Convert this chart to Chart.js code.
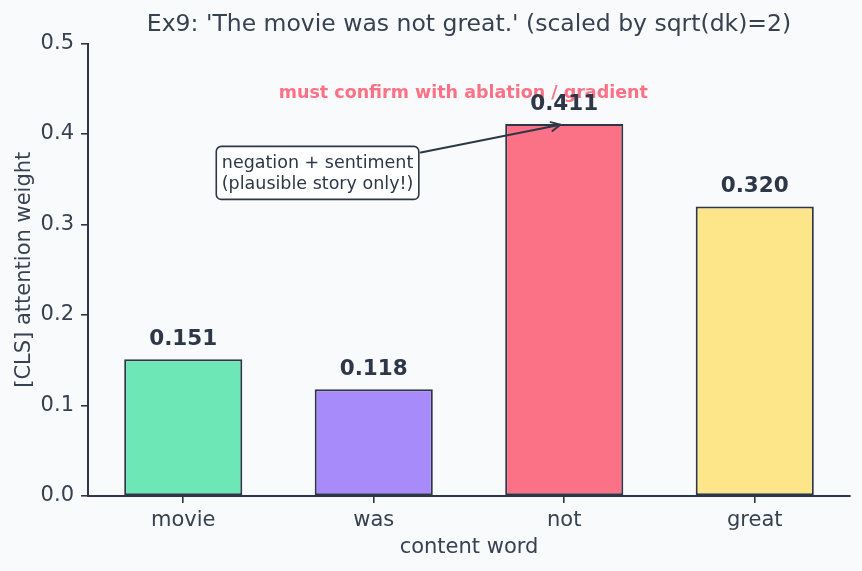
<!DOCTYPE html>
<html><head><meta charset="utf-8">
<script src="https://cdn.jsdelivr.net/npm/chart.js@4.4.1/dist/chart.umd.min.js"></script>
<style>html,body{margin:0;padding:0;background:#f8fafc;overflow:hidden}#wrap{width:862px;height:571px}</style>
</head><body><div id="wrap"><canvas id="c" width="862" height="571"></canvas></div>
<script>
const categories = ['movie', 'was', 'not', 'great'];
const weights = [0.151, 0.118, 0.411, 0.320];
const barColors = ['#6ee7b7', '#a78bfa', '#fb7185', '#fde68a'];
const yTicks = [0.0, 0.1, 0.2, 0.3, 0.4, 0.5];
const titleText = "Ex9: 'The movie was not great.' (scaled by sqrt(dk)=2)";
const xLabel = 'content word';
const yLabel = '[CLS] attention weight';
const noteLines = ['negation + sentiment', '(plausible story only!)'];
const noteAt = [0.705, 0.357];
const noteTarget = [2, 0.411];
const warnText = 'must confirm with ablation / gradient';
const warnAt = [1.47, 0.445];

const FONT = "'DejaVu Sans', sans-serif";
const INK = '#2d3748';
const TXT = '#374151';

const overlay = {
  id: 'overlay',
  afterDatasetsDraw(chart) {
    const ctx = chart.ctx, xs = chart.scales.x, ys = chart.scales.y;
    ctx.save();
    ctx.font = "bold 17.5px " + FONT;
    ctx.fillStyle = '#fb7185';
    ctx.textAlign = 'center';
    ctx.textBaseline = 'middle';
    ctx.fillText(warnText, xs.getPixelForValue(warnAt[0]), ys.getPixelForValue(warnAt[1]));
    ctx.font = "bold 21.5px " + FONT;
    ctx.fillStyle = INK;
    ctx.textBaseline = 'alphabetic';
    weights.forEach((v, i) => {
      ctx.fillText(v.toFixed(3), xs.getPixelForValue(i), ys.getPixelForValue(v) - 14);
    });
    ctx.font = "17.5px " + FONT;
    const lineH = 21;
    const pad = 5.5;
    const tw = Math.max(...noteLines.map(t => ctx.measureText(t).width));
    const bw = tw + 2 * pad, bh = lineH * noteLines.length + 2 * pad;
    const cx = xs.getPixelForValue(noteAt[0]), cy = ys.getPixelForValue(noteAt[1]);
    const tx = xs.getPixelForValue(noteTarget[0]), ty = ys.getPixelForValue(noteTarget[1]);
    let dx = tx - cx, dy = ty - cy;
    const len = Math.hypot(dx, dy); const ux = dx / len, uy = dy / len;
    const t = Math.min((bw / 2) / Math.abs(dx), (bh / 2) / Math.abs(dy));
    const sx = cx + dx * t + ux * 2, sy = cy + dy * t + uy * 2;
    const ex = tx - ux * 4, ey = ty - uy * 4;
    ctx.strokeStyle = INK; ctx.lineWidth = 2; ctx.lineCap = 'round'; ctx.lineJoin = 'round';
    ctx.beginPath(); ctx.moveTo(sx, sy); ctx.lineTo(ex, ey); ctx.stroke();
    const hl = 9, hw = 4.5;
    const bx = ex - ux * hl, by = ey - uy * hl;
    ctx.beginPath();
    ctx.moveTo(bx - uy * hw, by + ux * hw); ctx.lineTo(ex, ey); ctx.lineTo(bx + uy * hw, by - ux * hw);
    ctx.stroke();
    ctx.beginPath();
    ctx.roundRect(cx - bw / 2, cy - bh / 2, bw, bh, 5);
    ctx.fillStyle = '#ffffff'; ctx.fill();
    ctx.lineWidth = 1.6; ctx.strokeStyle = INK; ctx.stroke();
    ctx.fillStyle = '#2d3748'; ctx.textAlign = 'center'; ctx.textBaseline = 'middle';
    noteLines.forEach((l, i) => {
      ctx.fillText(l, cx, cy - bh / 2 + pad + lineH * (i + 0.5) + 1);
    });
    ctx.restore();
  }
};

const bgPlugin = {
  id: 'bg',
  beforeDraw(chart) {
    const ctx = chart.ctx; ctx.save(); ctx.fillStyle = '#f8fafc';
    ctx.fillRect(0, 0, chart.width, chart.height); ctx.restore();
  }
};

new Chart(document.getElementById('c'), {
  type: 'bar',
  data: {
    labels: categories,
    datasets: [{
      data: weights,
      backgroundColor: barColors,
      borderColor: INK,
      borderWidth: 2,
      borderSkipped: false,
      barPercentage: 0.62,
      categoryPercentage: 1.0
    }]
  },
  options: {
    responsive: false,
    devicePixelRatio: 1,
    animation: false,
    layout: { padding: { top: 0, right: 12, bottom: 0, left: 0 } },
    plugins: {
      legend: { display: false },
      tooltip: { enabled: false },
      title: {
        display: true, text: titleText, color: TXT, fullSize: false,
        font: { family: FONT, size: 23.5, weight: 'normal' },
        padding: { top: 11, bottom: 4.3 }
      }
    },
    scales: {
      x: {
        offset: true,
        grid: { offset: false, drawOnChartArea: false, tickLength: 7, color: INK, lineWidth: 1.6 },
        border: { color: INK, width: 2 },
        ticks: { color: TXT, font: { family: FONT, size: 21 }, padding: 5 },
        title: { display: true, text: xLabel, color: TXT, font: { family: FONT, size: 21 }, padding: { top: 0, bottom: 11 } },
        afterFit(s) { s.height = 75; }
      },
      y: {
        min: 0, max: 0.5,
        afterBuildTicks(s) { s.ticks = yTicks.map(v => ({ value: v })); },
        grid: { drawOnChartArea: false, tickLength: 7, color: INK, lineWidth: 1.6 },
        border: { color: INK, width: 2 },
        ticks: { color: TXT, font: { family: FONT, size: 21 }, padding: 7, callback: v => Number(v).toFixed(1) },
        title: { display: true, text: yLabel, color: TXT, font: { family: FONT, size: 21 }, padding: { top: 12, bottom: 0 } },
        afterFit(s) { s.width = 88; }
      }
    }
  },
  plugins: [bgPlugin, overlay]
});
</script></body></html>
